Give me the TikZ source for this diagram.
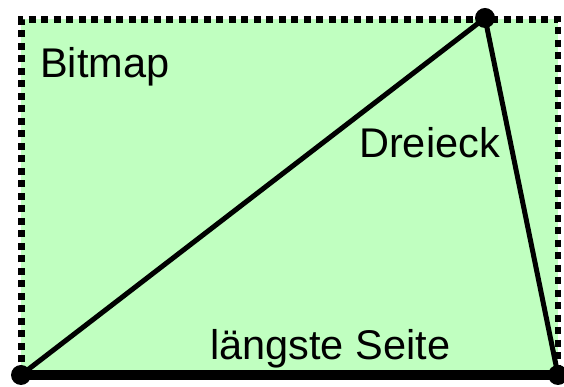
\documentclass[tikz,border=0pt]{standalone}
\usepackage{fontspec}
\setmainfont{Liberation Sans}
\usepackage{tikz}
\definecolor{bitmapgreen}{RGB}{192,255,192}

\begin{document}
\begin{tikzpicture}[x=1pt,y=1pt,
		label/.style={anchor=base west, inner sep=0pt, font=\fontsize{41.5}{50}\selectfont},
		corner/.style={circle, fill=black, inner sep=0pt, minimum size=20pt}]
				\useasboundingbox (0,0) rectangle (564,387);
				% bitmap
				\fill[bitmapgreen] (21,12) rectangle (558,368);
				\draw[black, line width=6.5pt, dash pattern=on 7pt off 5.5pt] (21.5,12) rectangle (558,367.5);
				% triangle
				\coordinate (a) at (21,12);
				\coordinate (b) at (485,369);
				\coordinate (c) at (558,12);
				\draw[black, line width=5pt](a)--(b);
				\draw[black, line width=5pt](b)--(c);
				\draw[black, line width=10pt](a)--(c);
				\node[corner] (pa) at (a) {};
				\node[corner] (pb) at (b) {};
				\node[corner] (pc) at (c) {};
				% labels
				\node[label] (bitmap) at (40,309) {Bitmap};
				\node[label] (dreieck) at (359,229) {Dreieck};
				\node[label] (seite) at (210,27) {längste Seite};
			\end{tikzpicture}
\end{document}
